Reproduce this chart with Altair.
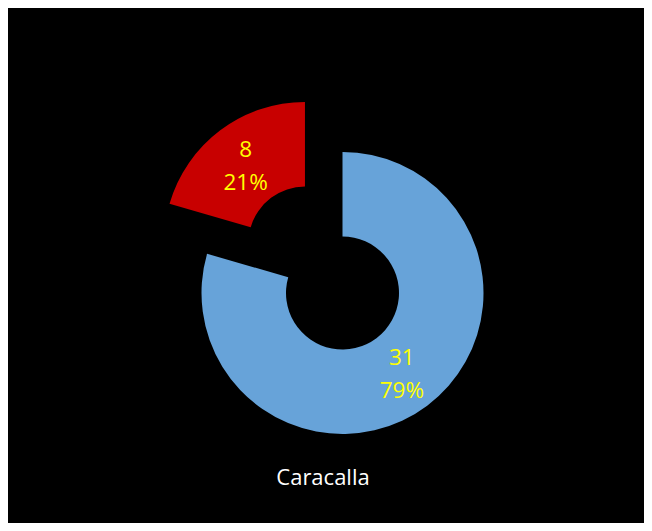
import math
import altair as alt
import pandas as pd

# ---- data ----
categories = ["Serie A", "Serie B"]
values = [31, 8]
colors = ["#67A3D9", "#C80000"]
chart_title = "Caracalla"

total = sum(values)
starts, ends, labels = [], [], []
cum = 0
for v in values:
    starts.append(cum)
    cum += v
    ends.append(cum)
    labels.append(f"{v}\n{round(v / total * 100)}%")
mids = [(s + e) / 2 for s, e in zip(starts, ends)]

df = pd.DataFrame({
    "category": categories,
    "value": values,
    "start": starts,
    "end": ends,
    "mid": mids,
    "label": labels,
})

# ---- layout ----
W, H = 636, 515
CX, CY = 334.5, 285
R_OUT, R_IN = 141, 56.5
R_LABEL = (R_OUT + R_IN) / 2
EXPLODE = [0, 62.5]
LINE_H = 33

theta_scale = alt.Scale(domain=[0, total], range=[0, 2 * math.pi])

layers = []
for cat, col, ex, m in zip(categories, colors, EXPLODE, mids):
    ang = m / total * 2 * math.pi
    cx = CX + ex * math.sin(ang)
    cy = CY - ex * math.cos(ang)
    base = alt.Chart(df).transform_filter(alt.datum.category == cat)
    arc = base.mark_arc(radius=R_OUT, radius2=R_IN, color=col).encode(
        theta=alt.Theta("start:Q", scale=theta_scale, stack=False),
        theta2="end:Q",
        x=alt.value(cx),
        y=alt.value(cy),
    )
    txt = base.mark_text(
        radius=R_LABEL, lineBreak="\n", font="Open Sans", fontSize=22.5,
        color="#FFFF00", lineHeight=LINE_H, align="center", baseline="middle",
        dy=-14,
    ).encode(
        theta=alt.Theta("mid:Q", scale=theta_scale, stack=False),
        text="label:N",
        x=alt.value(cx),
        y=alt.value(cy),
    )
    layers += [arc, txt]

title_layer = alt.Chart(pd.DataFrame({"t": [chart_title]})).mark_text(
    font="Open Sans", fontSize=22, color="white", align="center", baseline="middle"
).encode(text="t:N", x=alt.value(315), y=alt.value(470))
layers.append(title_layer)

chart = alt.layer(*layers).properties(
    width=W, height=H, background="black", padding=0,
    autosize=alt.AutoSizeParams(type="none"),
).configure_view(stroke=None)

chart.save("out.html", embed_options={"renderer": "svg", "actions": False})
